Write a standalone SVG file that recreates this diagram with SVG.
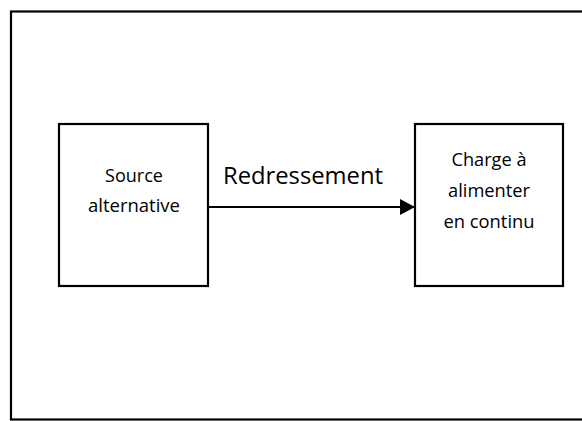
<svg xmlns="http://www.w3.org/2000/svg" width="582" height="421" viewBox="0 0 582 421">
  <style>
    .frame { fill: none; stroke: #000; stroke-width: 2.2; }
    .box { fill: #fff; stroke: #000; stroke-width: 2.2; }
    .lbl { font-family: "Open Sans", "Liberation Sans", sans-serif; font-size: 18.5px; fill: #000; text-anchor: middle; }
    .edge-lbl { font-family: "Open Sans", "Liberation Sans", sans-serif; font-size: 23px; fill: #000; }
    .wire { stroke: #000; stroke-width: 2.2; fill: none; }
  </style>
  <defs>
    <marker id="arrow" markerUnits="userSpaceOnUse" markerWidth="16" markerHeight="18" refX="15" refY="8" orient="auto">
      <path d="M0,0 L15,8 L0,16 Z" fill="#000"/>
    </marker>
  </defs>

  <rect width="582" height="421" fill="#fff"/>
  <!-- outer border -->
  <rect class="frame" x="11" y="11.5" width="580" height="408"/>

  <g id="source">
    <rect class="box" x="59" y="124" width="149" height="162"/>
    <text class="lbl" x="134" y="182" textLength="58" lengthAdjust="spacingAndGlyphs">Source</text>
    <text class="lbl" x="134" y="212" textLength="92" lengthAdjust="spacingAndGlyphs">alternative</text>
  </g>

  <g id="load">
    <rect class="box" x="415" y="124" width="148" height="162"/>
    <text class="lbl" x="489" y="166" textLength="75" lengthAdjust="spacingAndGlyphs">Charge à</text>
    <text class="lbl" x="489" y="197" textLength="82" lengthAdjust="spacingAndGlyphs">alimenter</text>
    <text class="lbl" x="489" y="228" textLength="91" lengthAdjust="spacingAndGlyphs">en continu</text>
  </g>

  <g id="connectors">
    <line class="wire" x1="208" y1="207" x2="415" y2="207" marker-end="url(#arrow)"/>
    <text class="edge-lbl" x="223" y="184" textLength="160" lengthAdjust="spacingAndGlyphs">Redressement</text>
  </g>
</svg>
